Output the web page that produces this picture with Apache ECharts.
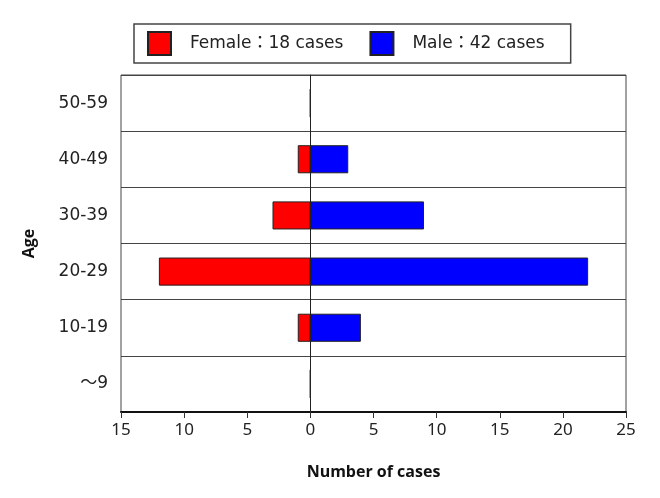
<!DOCTYPE html>
<html>
<head>
<meta charset="utf-8">
<script src="https://cdn.jsdelivr.net/npm/echarts@6/dist/echarts.min.js"></script>
<style>
  html, body { margin: 0; padding: 0; background: #fff; }
  #main { width: 660px; height: 498px; }
</style>
</head>
<body>
<div id="main"></div>
<script>
// age bands, bottom to top
var ageGroups = ['～9', '10-19', '20-29', '30-39', '40-49', '50-59']
var female = [0, 1, 12, 3, 1, 0]
var male = [0, 4, 22, 9, 3, 0]
var legendNames = ['Female：18 cases', 'Male：42 cases']

var labelFont = '"DejaVu Sans", "Noto Sans CJK JP", sans-serif'

var myChart = echarts.init(document.getElementById('main'))

myChart.setOption({
  backgroundColor: '#fff',
  animation: false,
  legend: {
    top: 24,
    left: 134,
    data: legendNames,
    icon: 'rect',
    itemWidth: 23,
    itemHeight: 23,
    itemGap: 26,
    padding: [7, 26, 7, 13],
    borderColor: '#444',
    borderWidth: 1.5,
    textStyle: { fontFamily: labelFont, fontSize: 17, color: '#222', padding: [0, 0, 0, 14] }
  },
  grid: {
    left: 121, right: 34, top: 75, bottom: 86,
    show: true,
    borderColor: '#444',
    borderWidth: 1
  },
  xAxis: {
    type: 'value',
    min: -15,
    max: 25,
    interval: 5,
    name: 'Number of cases',
    nameLocation: 'middle',
    nameGap: 52,
    nameTextStyle: { fontFamily: '"Open Sans", sans-serif', fontWeight: 'bold', fontSize: 16, color: '#111' },
    axisLine: { show: true, onZero: false, lineStyle: { color: '#111', width: 2 } },
    axisTick: { show: true, length: 6, lineStyle: { color: '#333' } },
    axisLabel: {
      fontFamily: '"Noto Sans", sans-serif',
      fontSize: 17,
      color: '#222',
      margin: 10,
      formatter: function (v) { return Math.abs(v) }
    },
    splitLine: { show: false }
  },
  yAxis: {
    type: 'category',
    data: ageGroups,
    name: 'Age',
    nameLocation: 'middle',
    nameGap: 84,
    nameTextStyle: { fontFamily: '"Open Sans", sans-serif', fontWeight: 'bold', fontSize: 16, color: '#111' },
    axisLine: { show: true, lineStyle: { color: '#444' } },
    axisTick: { show: false },
    axisLabel: { fontFamily: labelFont, fontSize: 17, color: '#222', margin: 13 },
    splitLine: { show: true, interval: 0, lineStyle: { color: '#444', width: 1 } }
  },
  series: [
    {
      name: legendNames[0],
      type: 'bar',
      stack: 'pyramid',
      barWidth: '50%',
      data: female.map(function (v) { return -v }),
      itemStyle: { color: '#ff0000', borderColor: '#222', borderWidth: 1 },
      markLine: {
        silent: true,
        symbol: 'none',
        label: { show: false },
        lineStyle: { color: '#222', type: 'solid', width: 1 },
        data: [{ xAxis: 0 }]
      }
    },
    {
      name: legendNames[1],
      type: 'bar',
      stack: 'pyramid',
      barWidth: '50%',
      data: male,
      itemStyle: { color: '#0000ff', borderColor: '#222', borderWidth: 1 }
    }
  ]
})
</script>
</body>
</html>
